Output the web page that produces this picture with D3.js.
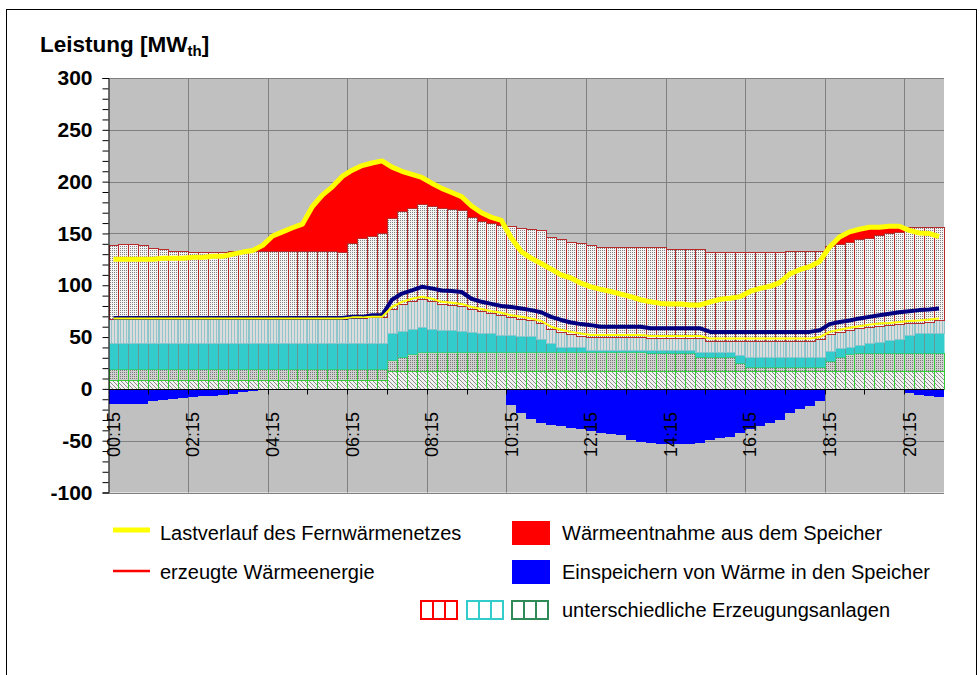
<!DOCTYPE html>
<html><head><meta charset="utf-8">
<script src="https://cdn.jsdelivr.net/npm/d3@7"></script>
<style>
body{margin:0;background:#fff}
svg{display:block}
text{font-family:"Liberation Sans",Arial,Helvetica,sans-serif}
</style>
</head><body>
<svg id="chart" width="979" height="675"></svg>
<script>
// ---------------- DATA ----------------
const categories = [
"00:15","00:30","00:45","01:00","01:15","01:30","01:45","02:00",
"02:15","02:30","02:45","03:00","03:15","03:30","03:45","04:00",
"04:15","04:30","04:45","05:00","05:15","05:30","05:45","06:00",
"06:15","06:30","06:45","07:00","07:15","07:30","07:45","08:00",
"08:15","08:30","08:45","09:00","09:15","09:30","09:45","10:00",
"10:15","10:30","10:45","11:00","11:15","11:30","11:45","12:00",
"12:15","12:30","12:45","13:00","13:15","13:30","13:45","14:00",
"14:15","14:30","14:45","15:00","15:15","15:30","15:45","16:00",
"16:15","16:30","16:45","17:00","17:15","17:30","17:45","18:00",
"18:15","18:30","18:45","19:00","19:15","19:30","19:45","20:00",
"20:15","20:30","20:45","21:00"];
const tickLabels = ["00:15","02:15","04:15","06:15","08:15","10:15","12:15","14:15","16:15","18:15","20:15"];
const yTickLabels = [-100,-50,0,50,100,150,200,250,300];

// Erzeugungsanlagen (stacked, MW)
const anlage1 = [
9,9,9,9,9,9,9,9, 9,9,9,9,9,9,9,9, 9,9,9,9,9,9,9,9,
9,9,9,9,17,17,17,17, 17,17,17,17,17,17,17,17, 17,17,17,17,17,17,17,17,
17,17,17,17,17,17,17,17, 17,17,17,17,17,17,17,17, 17,17,17,17,17,17,17,17,
17,17,17,17,17,17,17,17, 17,17,17,17];
const anlage2 = [
10.5,10.5,10.5,10.5,10.5,10.5,10.5,10.5, 10.5,10.5,10.5,10.5,10.5,10.5,10.5,10.5,
10.5,10.5,10.5,10.5,10.5,10.5,10.5,10.5, 10.5,10.5,10.5,10.5,11,14,17,19,
19,19,19,19,19,19,19,19, 19,19,19,19,19,19,19,19,
19,19,19,19,19,19,17.5,17.5, 17.5,17.5,17.5,14,14,14,14,7.5,
4,4,4,4,4,4,4,4, 10,14,16.5,17.5,17.5,17.5,17.5,17.5, 17.5,17.5,17.5,17.5];
const anlage3 = [
24.5,24.5,24.5,24.5,24.5,24.5,24.5,24.5, 24.5,24.5,24.5,24.5,24.5,24.5,24.5,24.5,
24.5,24.5,24.5,24.5,24.5,24.5,24.5,24.5, 24.5,24.5,24.5,24.5,26,24.5,24,24,
22,21,21,19.5,18.5,18,17.5,16, 16,15.5,15.5,12.5,8,4.5,4.5,4.5,
1.5,1.5,1.5,1.5,1.5,1.5,3,3, 3,3,3,4.5,4.5,4.5,4.5,8.5,
10,10,10,10,10,10,10,10, 10,8,7,7.5,9.5,11,12.5,14, 17.5,19,19,19];
const anlage4 = [
23.5,23.5,23.5,23.5,23.5,23.5,23.5,23.5, 23.5,23.5,23.5,23.5,23.5,23.5,23.5,23.5,
23.5,23.5,23.5,23.5,23.5,23.5,23.5,23.5, 24.5,24.5,25,25,23,26.5,27,27,
27,25,24,24.5,22.5,21,19.5,19.5, 17,16,14.5,15,14,14.5,12.5,11,
12.5,12.5,12.5,12.5,12.5,12.5,11.5,11.5, 11.5,11.5,11.5,13.5,11,11,11,13.5,
15.5,15.5,15.5,15.5,15.5,15.5,15.5,17, 16,16,16.5,16.5,16,15.5,14.5,14, 11.5,10.5,11.5,12.5];
const anlage5 = [
71,72,72,71,68,67,66,66, 65,65,65,65,66,66,66,66, 66,66,66,66,66,66,66,65,
72,77,79,81,88,90,90,91.5, 91,93,93,93,89,87,87.5,87, 88,87.5,88,90,89,89.5,89,89,
88.5,86.5,86.5,86.5,86.5,86.5,87.5,87.5, 86,85.5,85.5,85.5,85.5,85.5,85.5,85.5,
85.5,85.5,85.5,85.5,87,87,87,85.5, 85,85,85,86,85.5,87.5,88.5,89, 93,92,91,90.5];

// Lastverlauf des Fernwärmenetzes
const lastverlauf = [
125,125,125,125,125,126,126,126, 127,127,128,128,130,132,133.5,138.5,
147.5,151.5,155.5,159,176,187,195,205, 211,215.5,218,220,214,210,207,204,
198.5,193.5,189.5,185.5,176.5,170,165.5,162.5, 145.5,132.5,126,121,115.5,110,107,102,
98.5,96,94,91.5,89,86,84,82.5, 82,82,81,81,84,86.5,87.5,89,
94,97,99,102.5,111,115,118,123, 137,146.5,151.5,154,156,156,157,157, 153,150.5,150,147];
// dark blue line
const linieBlau = [
68.5,68.5,68.5,68.5,68.5,68.5,68.5,68.5, 68.5,68.5,68.5,68.5,68.5,68.5,68.5,68.5,
68.5,68.5,68.5,68.5,68.5,68.5,68.5,68.5, 69.5,69.5,71,71,86,92,95,98.5,
97,95,94.5,93.5,87,84,82,80, 79,77.5,76,74,69.5,66.5,64,62.5,
61.5,60,60,60,60,60,58.5,58.5, 58.5,58.5,58.5,58.5,55,55,55,55,
55,55,55,55,55,55,55,56.5, 62.5,64.5,66,68,69.5,71,72.5,74, 75,76,76.5,77.5];
// thin yellow line
const linieGelb = [
68,68,68,68,68,68,68,68, 68,68,68,68,68,68,68,68, 68,68,68,68,68,68,68,68,
69,69,69.5,69.5,79,84,87,89, 87,84,83,82,79,77,75,73.5, 71,69.5,68,65.5,60,57,55,53.5,
52,52,52,52,52,52,51,51, 51,51,51,51,48.5,48.5,48.5,48.5,
48.5,48.5,48.5,48.5,48.5,48.5,48.5,50, 55,57,59,60.5,62,63,63.5,64.5, 65.5,66,67,68];
// Einspeichern von Wärme in den Speicher (negative)
const einspeichern = [
-14,-14,-14,-14,-11,-10,-8.5,-8, -7,-6,-5.5,-4.5,-3.5,-2.5,-1,0,
0,0,0,0,0,0,0,0, 0,0,0,0,0,0,0,0, 0,0,0,0,0,0,0,0,
-15,-22,-28,-32,-33.5,-35,-36.5,-38, -40,-41.5,-42.5,-44,-48,-50.5,-51.5,-52.5,
-52.5,-52.5,-52.5,-51.5,-48,-46,-45,-41.5, -38,-35,-32,-29,-22.5,-18.5,-15.5,-11,
0,0,0,0,0,0,0,0, -3,-4.5,-6,-7];

// ---------------- CHART ----------------
const svg = d3.select("#chart");
const defs = svg.append("defs");
function pattern(id, w, h, bg, draw) {
  const p = defs.append("pattern").attr("id", id).attr("patternUnits", "userSpaceOnUse")
    .attr("width", w).attr("height", h);
  p.append("rect").attr("width", w).attr("height", h).attr("fill", bg);
  draw(p);
}
pattern("p5", 2, 2, "#f4f4f4", p => p.append("rect").attr("width", 1).attr("height", 1).attr("fill", "#808080"));
pattern("p4", 3, 3, "#dcdcdc", p => p.append("rect").attr("width", 1).attr("height", 3).attr("fill", "#93c6cc"));
pattern("p2", 2, 2, "#d0d0d0", p => p.append("rect").attr("width", 1).attr("height", 1).attr("fill", "#7a7a7a"));
pattern("p1", 4, 4, "#f2f2f2", p => p.append("path").attr("d", "M-1,-1L5,5M-1,3L1,5M3,-1L5,1")
  .attr("stroke", "#8a8a8a").attr("stroke-width", 1));

// outer frame
svg.append("rect").attr("x", 6.5).attr("y", 9.5).attr("width", 970).attr("height", 700)
  .attr("fill", "#fff").attr("stroke", "#000").attr("stroke-width", 1);

const plot = {left: 108.5, right: 944, top: 78, bottom: 492.5};
const x = d3.scaleBand().domain(categories).range([plot.left, plot.right]).padding(0);
const bw = x.bandwidth();
const cx = c => x(c) + bw / 2;
const xl = c => Math.round(x(c));
const xr = c => Math.round(x(c) + bw);
const y = d3.scaleLinear().domain([-100, 300]).range([plot.bottom, plot.top]);
const ry = v => Math.round(y(v));

// plot background
svg.append("rect").attr("x", plot.left).attr("y", plot.top)
  .attr("width", plot.right - plot.left).attr("height", plot.bottom - plot.top).attr("fill", "#c0c0c0");

// gridlines
svg.append("g").selectAll("line").data(d3.range(-100, 301, 50)).join("line")
  .attr("x1", plot.left).attr("x2", plot.right)
  .attr("y1", d => ry(d) + 0.5).attr("y2", d => ry(d) + 0.5)
  .attr("stroke", "#808080").attr("stroke-width", 1);
svg.append("g").selectAll("line").data(tickLabels.slice(1)).join("line")
  .attr("x1", d => xl(d) + 0.5).attr("x2", d => xl(d) + 0.5)
  .attr("y1", plot.top).attr("y2", plot.bottom)
  .attr("stroke", "#808080").attr("stroke-width", 1);

// rows
const rows = categories.map((c, i) => ({
  cat: c, a1: anlage1[i], a2: anlage2[i], a3: anlage3[i], a4: anlage4[i], a5: anlage5[i],
  last: lastverlauf[i], blau: linieBlau[i], gelb: linieGelb[i], ein: einspeichern[i]
}));

// Wärmeentnahme: red area under load curve (visible above generation bars)
svg.append("path").datum(rows)
  .attr("d", d3.area().x(d => cx(d.cat)).y0(y(0)).y1(d => y(d.last)))
  .attr("fill", "#ff0000");

// stacked generation bars
const keys = ["a1", "a2", "a3", "a4", "a5"];
const fills = ["url(#p1)", "url(#p2)", "#33cccc", "url(#p4)", "url(#p5)"];
const strokes = ["#33cc33", "#33cc33", "none", "#8cc6cc", "#b52a2a"];
const stacked = d3.stack().keys(keys)(rows);
stacked.forEach((layer, k) => {
  svg.append("g").selectAll("rect").data(layer).join("rect")
    .attr("x", d => xl(d.data.cat) + 0.5).attr("width", d => xr(d.data.cat) - xl(d.data.cat))
    .attr("y", d => ry(d[1]) + 0.5).attr("height", d => Math.max(0, ry(d[0]) - ry(d[1])))
    .attr("fill", fills[k]).attr("stroke", strokes[k]).attr("stroke-width", 1);
});

// Einspeichern (blue, negative)
svg.append("g").selectAll("rect").data(rows).join("rect")
  .attr("x", d => xl(d.cat)).attr("width", d => xr(d.cat) - xl(d.cat))
  .attr("y", ry(0) + 1).attr("height", d => Math.max(0, ry(d.ein) - ry(0)))
  .attr("fill", "#0000ff");

// lines
const line = acc => d3.line().x(d => cx(d.cat)).y(d => y(acc(d)));
svg.append("path").datum(rows).attr("d", line(d => d.blau))
  .attr("fill", "none").attr("stroke", "#000080").attr("stroke-width", 4).attr("stroke-linejoin", "round");
svg.append("path").datum(rows).attr("d", line(d => d.gelb))
  .attr("fill", "none").attr("stroke", "#ffff00").attr("stroke-width", 2).attr("stroke-linejoin", "round");
svg.append("path").datum(rows).attr("d", line(d => d.last))
  .attr("fill", "none").attr("stroke", "#ffff00").attr("stroke-width", 5).attr("stroke-linejoin", "round");

// y axis
const yAxis = d3.axisLeft(y).tickValues(d3.range(-100, 301, 10)).tickSize(6).tickPadding(10)
  .tickFormat(d => yTickLabels.includes(d) ? d : "");
const gy = svg.append("g").attr("transform", `translate(${plot.left},0)`).call(yAxis);
gy.select(".domain").attr("stroke", "#000");
gy.selectAll(".tick line").attr("stroke", "#000");
gy.selectAll("text").attr("font-size", 21).attr("font-weight", "bold").attr("fill", "#000")
  .style("font-family", '"Liberation Sans",Arial,sans-serif');

// x axis at zero
const x0 = ry(0) + 0.5;
svg.append("line").attr("x1", plot.left).attr("x2", plot.right).attr("y1", x0).attr("y2", x0)
  .attr("stroke", "#000").attr("stroke-width", 1);
svg.append("g").selectAll("line").data(categories.filter((c, i) => i % 4 === 0 && i > 0)).join("line")
  .attr("x1", d => xl(d) + 0.5).attr("x2", d => xl(d) + 0.5)
  .attr("y1", x0).attr("y2", x0 + 5).attr("stroke", "#000");
svg.append("g").selectAll("text").data(tickLabels).join("text")
  .attr("transform", d => `translate(${cx(d)},412) rotate(-90)`)
  .attr("text-anchor", "end").attr("dy", "0.35em").attr("font-size", 18).attr("fill", "#000")
  .text(d => d);

// title
const title = svg.append("text").attr("x", 40).attr("y", 52).attr("font-size", 22.5).attr("font-weight", "bold");
title.append("tspan").text("Leistung [MW");
title.append("tspan").attr("font-size", 15).attr("dy", 4).text("th");
title.append("tspan").attr("dy", -4).text("]");

// legend
const lg = svg.append("g");
lg.append("line").attr("x1", 113).attr("x2", 150).attr("y1", 530).attr("y2", 530).attr("stroke", "#ffff00").attr("stroke-width", 5);
lg.append("line").attr("x1", 113).attr("x2", 150).attr("y1", 571).attr("y2", 571).attr("stroke", "#ff0000").attr("stroke-width", 2.5);
lg.append("rect").attr("x", 512).attr("y", 521).attr("width", 38).attr("height", 24).attr("fill", "#ff0000");
lg.append("rect").attr("x", 512).attr("y", 560).attr("width", 38).attr("height", 24).attr("fill", "#0000ff");
const pc = [["#ff0000", 420], ["#33cccc", 466], ["#2e8b57", 511]];
pc.forEach(([col, px]) => {
  lg.append("rect").attr("x", px + 1).attr("y", 601).attr("width", 36).attr("height", 18)
    .attr("fill", "#fff").attr("stroke", col).attr("stroke-width", 2);
  [1, 2].forEach(k => lg.append("line").attr("x1", px + 1 + k * 12).attr("x2", px + 1 + k * 12)
    .attr("y1", 601).attr("y2", 619).attr("stroke", col).attr("stroke-width", 2));
});
const legendTexts = [
  ["Lastverlauf des Fernwärmenetzes", 160, 540],
  ["erzeugte Wärmeenergie", 160, 579],
  ["Wärmeentnahme aus dem Speicher", 562, 540],
  ["Einspeichern von Wärme in den Speicher", 562, 579],
  ["unterschiedliche Erzeugungsanlagen", 562, 617]];
lg.selectAll("text").data(legendTexts).join("text")
  .attr("x", d => d[1]).attr("y", d => d[2]).attr("font-size", 20).attr("fill", "#000").text(d => d[0]);
</script>
</body></html>
